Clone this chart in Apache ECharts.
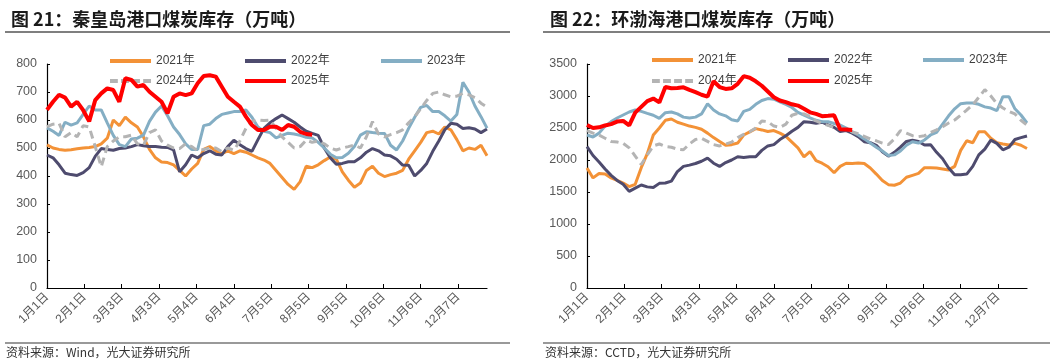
<!DOCTYPE html>
<html>
<head>
<meta charset="utf-8">
<script src="https://cdn.jsdelivr.net/npm/echarts@6/dist/echarts.min.js"></script>
<style>
html,body{margin:0;padding:0;background:#fff;}
#c{width:1055px;height:364px;}
</style>
</head>
<body>
<div id="c"></div>
<script>
// ---- data (values every 5 days, day index = i*5 on a 366-day calendar) ----
const seriesNames = ['2021年','2022年','2023年','2024年','2025年'];
const stepDays = 5;

// 秦皇岛港 (万吨)
const qhd2021 = [511,500,495,492,494,497,500,502,505,515,
  535,600,580,610,590,575,540,495,465,450,
  448,440,420,400,425,445,495,505,490,480,
  490,480,490,485,475,465,457,445,420,395,
  370,352,380,435,430,440,455,468,460,415,
  385,360,375,420,435,410,398,405,410,420,
  460,490,520,555,560,550,575,565,530,490,
  500,495,510,472];
const qhd2022 = [475,465,440,410,405,402,412,430,470,498,
  495,492,498,500,505,512,508,505,505,503,
  502,493,415,440,475,465,480,490,478,475,
  505,528,512,498,488,530,570,590,605,618,
  605,592,575,560,552,545,500,465,442,445,
  451,451,465,485,498,490,475,472,460,439,
  438,400,420,445,488,525,565,588,585,570,
  572,568,555,568];
const qhd2023 = [572,560,545,592,582,590,620,650,636,636,
  590,545,512,505,532,535,546,595,628,650,
  615,575,548,515,495,495,580,585,605,620,
  625,630,630,636,610,575,560,555,536,545,
  553,550,545,538,536,520,500,478,465,466,
  481,505,546,558,555,553,552,510,493,525,
  570,610,645,652,630,630,615,596,620,735,
  700,650,612,571];
const qhd2024 = [576,585,588,540,555,540,580,575,505,433,
  505,525,540,540,546,515,510,555,565,525,
  510,500,498,515,505,490,495,500,500,487,
  500,492,525,570,595,600,598,600,570,540,
  520,500,505,528,520,525,515,500,493,500,
  505,511,500,540,594,550,540,548,555,565,
  590,612,640,670,695,700,690,683,685,695,
  690,680,660,646];
const qhd2025 = [636,665,690,680,648,665,635,595,671,695,
  713,707,665,749,743,719,725,701,683,665,
  624,683,695,689,695,731,757,760,755,719,
  683,665,648,612,582,564,564,576,576,564,
  582,576,558,550,547];

// 环渤海港口 (万吨)
const hbh2021 = [1875,1720,1790,1780,1720,1680,1640,1585,1620,1880,
  2100,2390,2500,2620,2640,2590,2560,2530,2510,2480,
  2420,2350,2290,2230,2240,2265,2390,2440,2490,2470,
  2445,2460,2420,2370,2280,2190,2050,2130,1990,1950,
  1895,1800,1900,1950,1945,1953,1945,1875,1780,1680,
  1615,1605,1640,1730,1760,1790,1880,1880,1875,1860,
  1845,1900,2150,2300,2270,2440,2440,2340,2270,2250,
  2235,2260,2230,2180];
const hbh2022 = [2208,2070,1970,1860,1760,1680,1620,1510,1560,1610,
  1580,1570,1635,1640,1670,1820,1900,1920,1945,1980,
  2030,1950,1900,1960,2000,2050,2040,2050,2050,2150,
  2220,2240,2320,2380,2450,2510,2599,2590,2573,2590,
  2550,2510,2443,2460,2420,2365,2286,2270,2230,2130,
  2060,2120,2200,2290,2310,2290,2234,2240,2120,2020,
  1875,1770,1770,1780,1900,2080,2170,2310,2260,2160,
  2200,2320,2350,2375];
const hbh2023 = [2391,2360,2420,2530,2600,2656,2703,2750,2781,2760,
  2729,2700,2650,2740,2750,2720,2670,2656,2670,2720,
  2880,2781,2720,2690,2630,2610,2760,2790,2870,2930,
  2960,2950,2910,2870,2820,2745,2700,2660,2620,2599,
  2599,2570,2547,2500,2440,2390,2330,2265,2200,2140,
  2070,2080,2140,2230,2286,2265,2313,2391,2430,2560,
  2690,2800,2880,2890,2890,2870,2830,2812,2770,2990,
  2990,2800,2703,2578];
const hbh2024 = [2460,2420,2390,2340,2290,2280,2260,2190,2060,1930,
  2080,2220,2250,2210,2200,2170,2160,2250,2320,2340,
  2290,2240,2220,2250,2280,2350,2400,2440,2500,2610,
  2600,2530,2510,2560,2700,2729,2720,2680,2610,2570,
  2540,2510,2490,2469,2440,2410,2370,2330,2300,2265,
  2240,2330,2460,2420,2380,2365,2380,2430,2470,2520,
  2578,2625,2700,2781,2860,2980,3100,3000,2880,2812,
  2760,2720,2620,2547];
const hbh2025 = [2547,2500,2510,2540,2560,2600,2610,2540,2740,2830,
  2920,2960,2900,3140,3120,3125,3135,3095,3060,3020,
  2990,3230,3140,3110,3120,3190,3310,3285,3230,3160,
  3070,2980,2930,2905,2870,2850,2800,2745,2720,2685,
  2690,2700,2480,2475,2470];

// calendar categories (leap-year calendar, 366 days)
const monthDays = [31,29,31,30,31,30,31,31,30,31,30,31];
const dayLabels = [];
monthDays.forEach((n, m) => { for (let d = 1; d <= n; d++) dayLabels.push((m + 1) + '月' + d + '日'); });

const leftYTicks = {min: 0, max: 800, interval: 100};
const rightYTicks = {min: 0, max: 3500, interval: 500};

const colors = {'2021年': '#F39237', '2022年': '#4E4B6E', '2023年': '#84AEC4', '2024年': '#B4B4B4', '2025年': '#FF0000'};

function pts(arr) { return arr.map((v, i) => [Math.min(i * stepDays, dayLabels.length - 1), v]); }

const FONT = '"Liberation Sans", "Noto Sans CJK SC", sans-serif';

function mkSeries(name, arr, idx) {
  const isRed = name === '2025年';
  const isGray = name === '2024年';
  return {
    name: name, type: 'line', xAxisIndex: idx, yAxisIndex: idx,
    data: pts(arr), symbol: 'none', showSymbol: false,
    lineStyle: {color: colors[name], width: isRed ? 4 : 3, type: isGray ? [8, 5] : 'solid'},
    itemStyle: {color: colors[name]},
    z: isRed ? 5 : 3
  };
}

const series = [];
[qhd2021, qhd2022, qhd2023, qhd2024, qhd2025].forEach((a, k) => series.push(mkSeries(seriesNames[k], a, 0)));
[hbh2021, hbh2022, hbh2023, hbh2024, hbh2025].forEach((a, k) => series.push(mkSeries(seriesNames[k], a, 1)));

function xAx(gi) {
  return {
    type: 'category', gridIndex: gi, data: dayLabels, boundaryGap: false,
    axisLine: {lineStyle: {color: '#000', width: 1.2}},
    axisTick: {inside: true, length: 4, interval: 30, lineStyle: {color: '#000'}},
    axisLabel: {interval: 30, rotate: 45, margin: 7, color: '#595959', fontSize: 12, fontFamily: FONT},
    splitLine: {show: false}
  };
}
function yAx(gi, t) {
  return {
    type: 'value', gridIndex: gi, min: t.min, max: t.max, interval: t.interval,
    axisLine: {show: true, lineStyle: {color: '#000', width: 1.2}},
    axisTick: {show: true, inside: true, length: 3, lineStyle: {color: '#000'}},
    axisLabel: {color: '#595959', fontSize: 12.5, fontFamily: FONT, margin: 10, formatter: v => String(v)},
    splitLine: {show: false}
  };
}

const dashIcon = 'path://M0,0h8v4h-8z M11.3,0h8v4h-8z M22.6,0h8v4h-8z M33.9,0h8v4h-8z';

function lg(name, left, top) {
  const isGray = name === '2024年';
  return {
    data: [{name: name, icon: isGray ? dashIcon : 'rect'}], left: left, top: top,
    itemWidth: 41, itemHeight: 4,
    textStyle: {color: '#404040', fontSize: 12, fontFamily: FONT},
    selectedMode: false
  };
}

const option = {
  animation: false,
  backgroundColor: '#fff',
  title: [
    {text: '图 21：秦皇岛港口煤炭库存（万吨）', left: 6, top: 5,
     textStyle: {fontSize: 18, fontWeight: 'bold', color: '#1a1a1a', fontFamily: '"Noto Sans CJK SC", sans-serif'}},
    {text: '图 22：环渤海港口煤炭库存（万吨）', left: 545, top: 5,
     textStyle: {fontSize: 18, fontWeight: 'bold', color: '#1a1a1a', fontFamily: '"Noto Sans CJK SC", sans-serif'}}
  ],
  legend: [
    lg('2021年', 105, 50), lg('2022年', 240, 50), lg('2023年', 376, 50),
    lg('2024年', 105, 70), lg('2025年', 240, 70),
    lg('2021年', 647, 49), lg('2022年', 783, 49), lg('2023年', 918, 49),
    lg('2024年', 647, 70), lg('2025年', 783, 70)
  ],
  grid: [
    {left: 47, top: 64, width: 440, height: 224},
    {left: 587, top: 64, width: 440, height: 224}
  ],
  xAxis: [xAx(0), xAx(1)],
  yAxis: [yAx(0, leftYTicks), yAx(1, rightYTicks)],
  series: series,
  graphic: [
    {type: 'line', shape: {x1: 5, y1: 32, x2: 510, y2: 32}, style: {stroke: '#555', lineWidth: 1.5}},
    {type: 'line', shape: {x1: 543, y1: 32, x2: 1050, y2: 32}, style: {stroke: '#555', lineWidth: 1.5}},
    {type: 'line', shape: {x1: 5, y1: 343, x2: 510, y2: 343}, style: {stroke: '#777', lineWidth: 1.5}},
    {type: 'line', shape: {x1: 543, y1: 343, x2: 1050, y2: 343}, style: {stroke: '#777', lineWidth: 1.5}},
    {type: 'text', left: 6, top: 346, style: {text: '资料来源：Wind，光大证券研究所', fill: '#333', font: '12px "Noto Sans CJK SC", sans-serif'}},
    {type: 'text', left: 545, top: 346, style: {text: '资料来源：CCTD，光大证券研究所', fill: '#333', font: '12px "Noto Sans CJK SC", sans-serif'}}
  ]
};

const chart = echarts.init(document.getElementById('c'), null, {renderer: 'canvas'});
chart.setOption(option);
</script>
</body>
</html>
